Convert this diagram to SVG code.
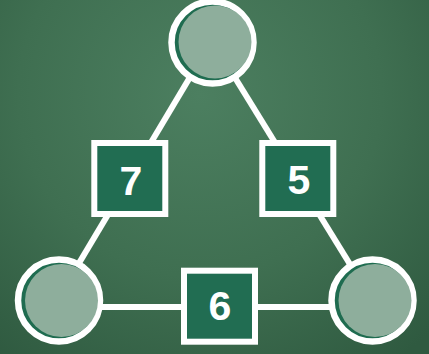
<svg xmlns="http://www.w3.org/2000/svg" width="429" height="354" viewBox="0 0 429 354">
  <defs>
    <radialGradient id="bg" cx="200" cy="95" r="330" gradientUnits="userSpaceOnUse">
      <stop offset="0" stop-color="#4c7f60"/>
      <stop offset="0.55" stop-color="#3f6f51"/>
      <stop offset="1" stop-color="#2f5a40"/>
    </radialGradient>
  </defs>
  <style>
    .edge { stroke: #ffffff; stroke-width: 6; fill: none; }
    .ring { fill: #1f6c50; stroke: #ffffff; stroke-width: 6.5; }
    .face { fill: #8eae9c; }
    .box { fill: #216d52; stroke: #ffffff; stroke-width: 6; }
    .num { fill: #ffffff; font-family: "Liberation Sans", Arial, sans-serif; font-weight: bold; font-size: 41px; text-anchor: middle; dominant-baseline: central; }
  </style>
  <rect x="0" y="0" width="429" height="354" fill="url(#bg)"/>
  <g id="connectors">
    <line class="edge" x1="211" y1="42" x2="57" y2="300"/>
    <line class="edge" x1="213" y1="42" x2="372" y2="300"/>
    <line class="edge" x1="59" y1="307" x2="372" y2="307"/>
  </g>
  <g id="circle-top">
    <circle class="ring" cx="212.5" cy="42.5" r="41"/>
    <circle class="face" cx="215" cy="42" r="36.5"/>
  </g>
  <g id="circle-left">
    <circle class="ring" cx="59" cy="300.5" r="41"/>
    <circle class="face" cx="61.5" cy="300.5" r="36.5"/>
  </g>
  <g id="circle-right">
    <circle class="ring" cx="372.5" cy="300.5" r="41"/>
    <circle class="face" cx="375" cy="300.5" r="36.5"/>
  </g>
  <g id="box-7">
    <rect class="box" x="94.3" y="143" width="71" height="71"/>
    <text class="num" x="131" y="181">7</text>
  </g>
  <g id="box-5">
    <rect class="box" x="262.3" y="143" width="71" height="71"/>
    <text class="num" x="299" y="180">5</text>
  </g>
  <g id="box-6">
    <rect class="box" x="184" y="270.7" width="71" height="71"/>
    <text class="num" x="220" y="306">6</text>
  </g>
</svg>
